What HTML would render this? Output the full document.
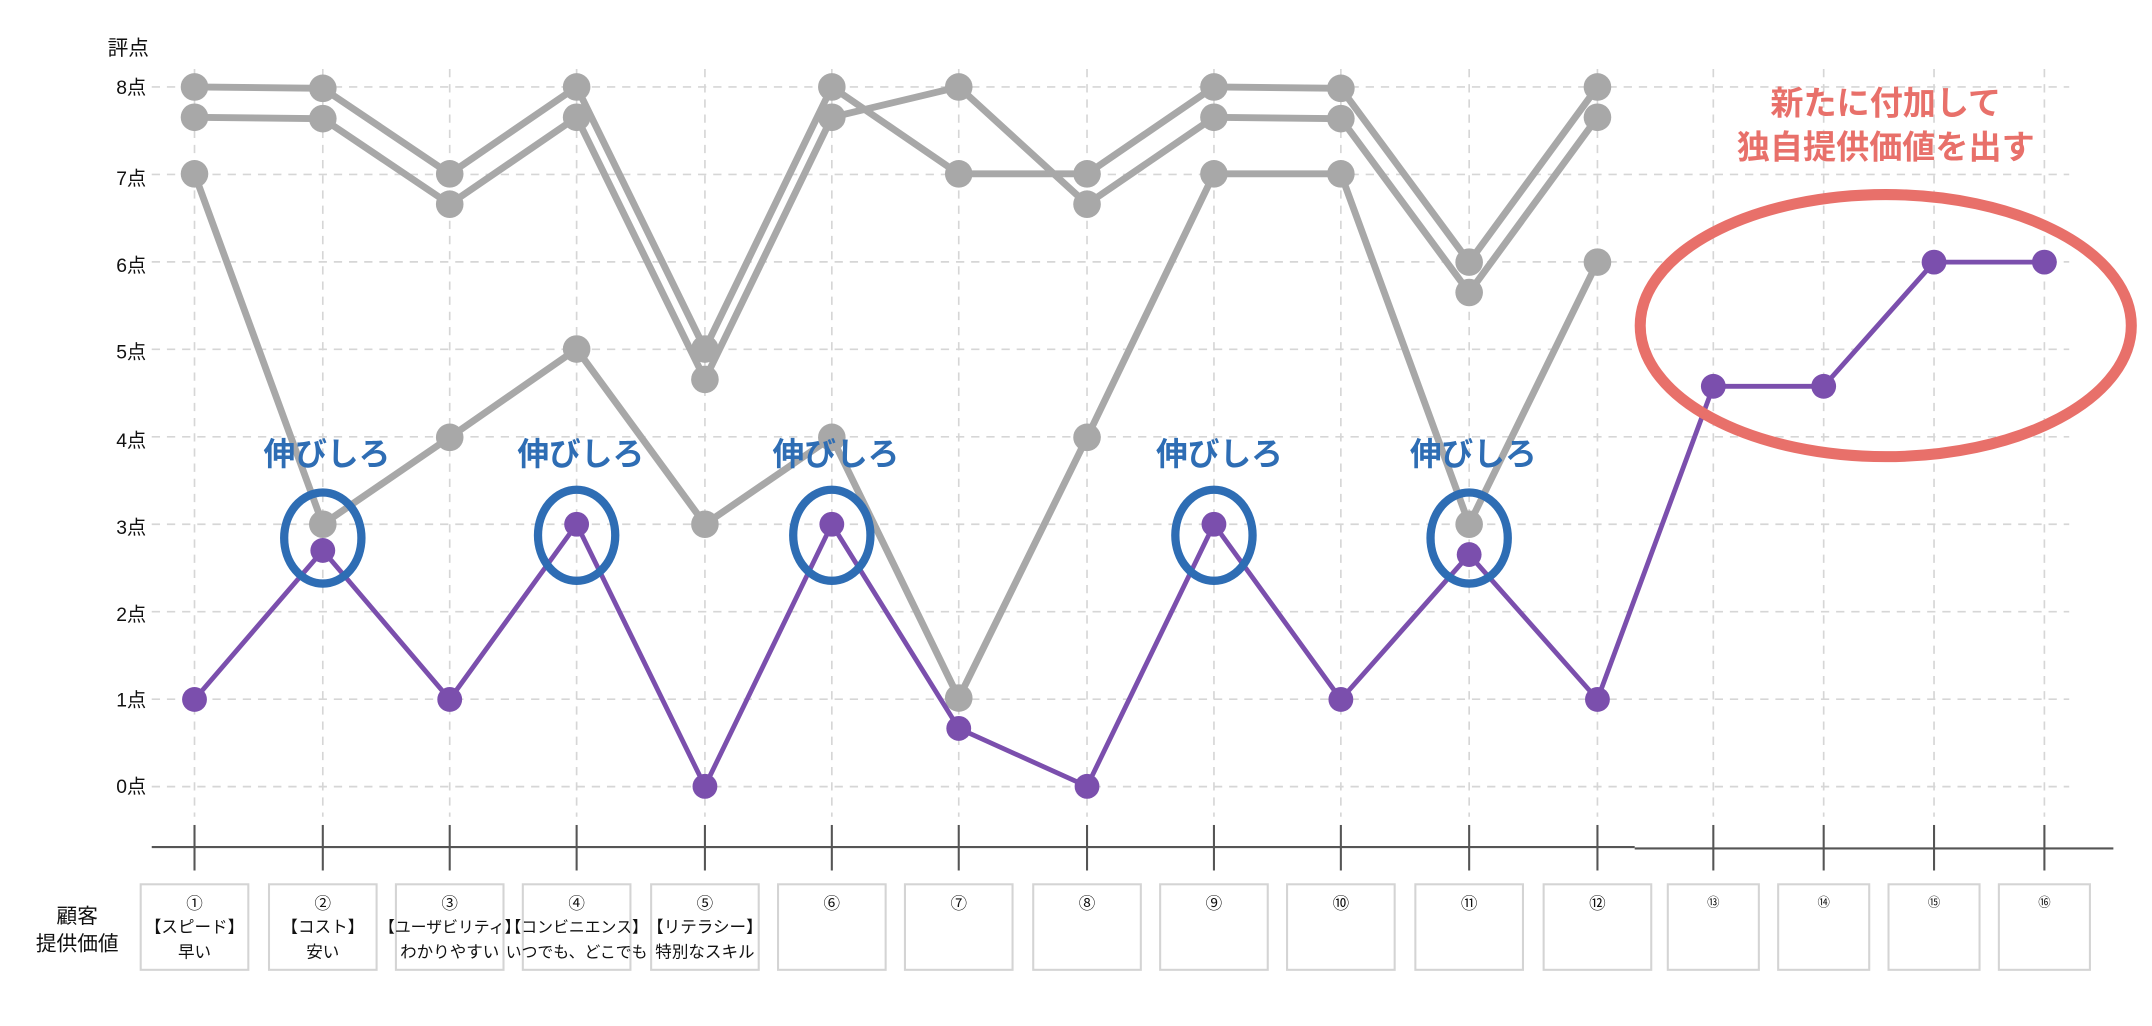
<!DOCTYPE html>
<html><head><meta charset="utf-8"><style>
html,body{margin:0;padding:0;background:#fff;}
svg{display:block;}
text{font-family:"Liberation Sans","Noto Sans CJK JP",sans-serif;}
</style></head><body>
<svg width="2152" height="1026" viewBox="0 0 1560 743.7" xmlns="http://www.w3.org/2000/svg">
<g stroke="#d6d6d6" stroke-width="1.2" stroke-dasharray="6,5">
<line x1="110" y1="63" x2="1500" y2="63"/><line x1="110" y1="126.4" x2="1500" y2="126.4"/>
<line x1="110" y1="189.8" x2="1500" y2="189.8"/><line x1="110" y1="253.2" x2="1500" y2="253.2"/>
<line x1="110" y1="316.6" x2="1500" y2="316.6"/><line x1="110" y1="380" x2="1500" y2="380"/>
<line x1="110" y1="443.4" x2="1500" y2="443.4"/><line x1="110" y1="506.8" x2="1500" y2="506.8"/>
<line x1="110" y1="570.2" x2="1500" y2="570.2"/>
<line x1="141" y1="50" x2="141" y2="592"/><line x1="234" y1="50" x2="234" y2="592"/><line x1="326" y1="50" x2="326" y2="592"/>
<line x1="418" y1="50" x2="418" y2="592"/><line x1="511" y1="50" x2="511" y2="592"/><line x1="603" y1="50" x2="603" y2="592"/>
<line x1="695" y1="50" x2="695" y2="592"/><line x1="788" y1="50" x2="788" y2="592"/><line x1="880" y1="50" x2="880" y2="592"/>
<line x1="972" y1="50" x2="972" y2="592"/><line x1="1065" y1="50" x2="1065" y2="592"/><line x1="1158" y1="50" x2="1158" y2="592"/>
<line x1="1242" y1="50" x2="1242" y2="592"/><line x1="1322" y1="50" x2="1322" y2="592"/><line x1="1402" y1="50" x2="1402" y2="592"/>
<line x1="1482" y1="50" x2="1482" y2="592"/>
</g>
<g font-size="14" fill="#111" text-anchor="end">
<text x="106" y="68">8点</text><text x="106" y="134">7点</text><text x="106" y="197">6点</text>
<text x="106" y="260">5点</text><text x="106" y="324">4点</text><text x="106" y="387">3点</text>
<text x="106" y="450">2点</text><text x="106" y="512">1点</text><text x="106" y="575">0点</text>
</g>
<text x="78" y="40" font-size="15" fill="#111">評点</text>
<!-- gray series -->
<g fill="none" stroke="#a8a8a8" stroke-width="5" stroke-linejoin="round">
<polyline points="141,63 234,64 326,126 418,63 511,253 603,63 695,126 788,126 880,63 972,64 1065,190 1158,63"/>
<polyline points="141,85 234,86 326,148 418,85 511,275 603,85 695,63 788,148 880,85 972,86 1065,212 1158,85"/>
<polyline points="141,126 234,380 326,317 418,253 511,380 603,317 695,506 788,317 880,126 972,126 1065,380 1158,190"/>
</g>
<g fill="#a8a8a8">
<circle cx="141" cy="63" r="10"/><circle cx="234" cy="64" r="10"/><circle cx="326" cy="126" r="10"/><circle cx="418" cy="63" r="10"/><circle cx="511" cy="253" r="10"/><circle cx="603" cy="63" r="10"/><circle cx="695" cy="126" r="10"/><circle cx="788" cy="126" r="10"/><circle cx="880" cy="63" r="10"/><circle cx="972" cy="64" r="10"/><circle cx="1065" cy="190" r="10"/><circle cx="1158" cy="63" r="10"/>
<circle cx="141" cy="85" r="10"/><circle cx="234" cy="86" r="10"/><circle cx="326" cy="148" r="10"/><circle cx="418" cy="85" r="10"/><circle cx="511" cy="275" r="10"/><circle cx="603" cy="85" r="10"/><circle cx="695" cy="63" r="10"/><circle cx="788" cy="148" r="10"/><circle cx="880" cy="85" r="10"/><circle cx="972" cy="86" r="10"/><circle cx="1065" cy="212" r="10"/><circle cx="1158" cy="85" r="10"/>
<circle cx="141" cy="126" r="10"/><circle cx="234" cy="380" r="10"/><circle cx="326" cy="317" r="10"/><circle cx="418" cy="253" r="10"/><circle cx="511" cy="380" r="10"/><circle cx="603" cy="317" r="10"/><circle cx="695" cy="506" r="10"/><circle cx="788" cy="317" r="10"/><circle cx="880" cy="126" r="10"/><circle cx="972" cy="126" r="10"/><circle cx="1065" cy="380" r="10"/><circle cx="1158" cy="190" r="10"/>
</g>
<!-- purple -->
<polyline fill="none" stroke="#7b4fad" stroke-width="3.5" stroke-linejoin="round" points="141,507 234,399 326,507 418,380 511,570 603,380 695,528 788,570 880,380 972,507 1065,402 1158,507 1242,280 1322,280 1402,190 1482,190"/>
<g fill="#7b4fad">
<circle cx="141" cy="507" r="9"/><circle cx="234" cy="399" r="9"/><circle cx="326" cy="507" r="9"/><circle cx="418" cy="380" r="9"/><circle cx="511" cy="570" r="9"/><circle cx="603" cy="380" r="9"/><circle cx="695" cy="528" r="9"/><circle cx="788" cy="570" r="9"/><circle cx="880" cy="380" r="9"/><circle cx="972" cy="507" r="9"/><circle cx="1065" cy="402" r="9"/><circle cx="1158" cy="507" r="9"/><circle cx="1242" cy="280" r="9"/><circle cx="1322" cy="280" r="9"/><circle cx="1402" cy="190" r="9"/><circle cx="1482" cy="190" r="9"/>
</g>
<!-- blue ellipses -->
<g fill="none" stroke="#2e6db4" stroke-width="6">
<ellipse cx="234" cy="390" rx="28" ry="33"/><ellipse cx="418" cy="388" rx="28" ry="33"/><ellipse cx="603" cy="388" rx="28" ry="33"/><ellipse cx="880" cy="388" rx="28" ry="33"/><ellipse cx="1065" cy="390" rx="28" ry="33"/>
</g>
<g font-size="23" font-weight="bold" fill="#2e6db4" text-anchor="middle">
<text x="237" y="337">伸びしろ</text><text x="421" y="337">伸びしろ</text><text x="606" y="337">伸びしろ</text><text x="884" y="337">伸びしろ</text><text x="1068" y="337">伸びしろ</text>
</g>
<ellipse cx="1367" cy="236" rx="178" ry="95" fill="none" stroke="#e8706a" stroke-width="8"/>
<g font-size="24" font-weight="bold" fill="#e8706a" text-anchor="middle">
<text x="1367" y="83">新たに付加して</text><text x="1367" y="115">独自提供価値を出す</text>
</g>
<!-- axis -->
<g stroke="#555" stroke-width="1.5">
<line x1="110" y1="614" x2="1185" y2="614"/><line x1="1185" y1="615" x2="1532" y2="615"/>
<line x1="141" y1="598" x2="141" y2="631"/><line x1="234" y1="598" x2="234" y2="631"/><line x1="326" y1="598" x2="326" y2="631"/><line x1="418" y1="598" x2="418" y2="631"/><line x1="511" y1="598" x2="511" y2="631"/><line x1="603" y1="598" x2="603" y2="631"/><line x1="695" y1="598" x2="695" y2="631"/><line x1="788" y1="598" x2="788" y2="631"/><line x1="880" y1="598" x2="880" y2="631"/><line x1="972" y1="598" x2="972" y2="631"/><line x1="1065" y1="598" x2="1065" y2="631"/><line x1="1158" y1="598" x2="1158" y2="631"/><line x1="1242" y1="598" x2="1242" y2="631"/><line x1="1322" y1="598" x2="1322" y2="631"/><line x1="1402" y1="598" x2="1402" y2="631"/><line x1="1482" y1="598" x2="1482" y2="631"/>
</g>
<g fill="#fff" stroke="#d4d4d4" stroke-width="1.5">
<rect x="102" y="641" width="78" height="62"/><rect x="195" y="641" width="78" height="62"/><rect x="287" y="641" width="78" height="62"/><rect x="379" y="641" width="78" height="62"/><rect x="472" y="641" width="78" height="62"/><rect x="564" y="641" width="78" height="62"/><rect x="656" y="641" width="78" height="62"/><rect x="749" y="641" width="78" height="62"/><rect x="841" y="641" width="78" height="62"/><rect x="933" y="641" width="78" height="62"/><rect x="1026" y="641" width="78" height="62"/><rect x="1119" y="641" width="78" height="62"/>
<rect x="1209" y="641" width="66" height="62"/><rect x="1289" y="641" width="66" height="62"/><rect x="1369" y="641" width="66" height="62"/><rect x="1449" y="641" width="66" height="62"/>
</g>
<g font-size="12" fill="#111" text-anchor="middle">
<text x="141" y="659">①</text><text x="141" y="676">【スピード】</text><text x="141" y="694">早い</text>
<text x="234" y="659">②</text><text x="234" y="676">【コスト】</text><text x="234" y="694">安い</text>
<text x="326" y="659">③</text><text x="326" y="676" font-size="11.5">【ユーザビリティ】</text><text x="326" y="694">わかりやすい</text>
<text x="418" y="659">④</text><text x="418" y="676" font-size="11.5">【コンビニエンス】</text><text x="418" y="694" font-size="11.5">いつでも、どこでも</text>
<text x="511" y="659">⑤</text><text x="511" y="676">【リテラシー】</text><text x="511" y="694">特別なスキル</text>
<text x="603" y="659">⑥</text><text x="695" y="659">⑦</text><text x="788" y="659">⑧</text><text x="880" y="659">⑨</text><text x="972" y="659">⑩</text><text x="1065" y="659">⑪</text><text x="1158" y="659">⑫</text>
<text x="1242" y="657" font-size="9">⑬</text><text x="1322" y="657" font-size="9">⑭</text><text x="1402" y="657" font-size="9">⑮</text><text x="1482" y="657" font-size="9">⑯</text>
</g>
<g font-size="15" fill="#111" text-anchor="middle">
<text x="56" y="669">顧客</text><text x="56" y="689">提供価値</text>
</g>
</svg>
</body></html>
